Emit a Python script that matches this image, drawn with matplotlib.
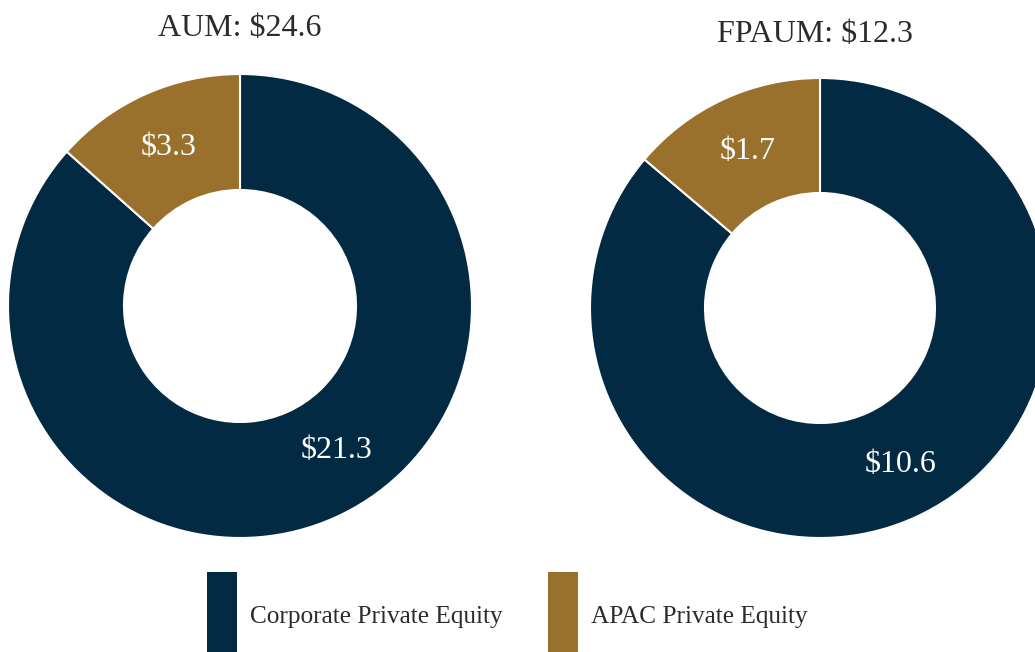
import matplotlib.pyplot as plt
from matplotlib.patches import Patch

segments = ["Corporate Private Equity", "APAC Private Equity"]
aum = [21.3, 3.3]
fpaum = [10.6, 1.7]
titles = ["AUM: $24.6", "FPAUM: $12.3"]
colors = ["#022a42", "#9a702d"]

plt.rcParams['font.family'] = ['Liberation Serif', 'DejaVu Serif']

W, H = 1035, 652
fig = plt.figure(figsize=(W / 100, H / 100), dpi=100)


def donut(rect, values, title, title_xy, big_label_shift=(0, 0)):
    ax = fig.add_axes(rect)
    total = sum(values)
    _, _, autotexts = ax.pie(values, colors=colors, startangle=90, counterclock=False,
           radius=1, pctdistance=0.75,
           autopct=lambda p: f"${p * total / 100:.1f}",
           wedgeprops=dict(width=0.5, edgecolor='white', linewidth=1.5),
           textprops=dict(color='white', fontsize=23))
    # small nudge of the big label, as in the original layout
    x, y = autotexts[0].get_position()
    autotexts[0].set_position((x + big_label_shift[0], y + big_label_shift[1]))
    ax.set_xlim(-1, 1)
    ax.set_ylim(-1, 1)
    ax.set_aspect('equal')
    ax.axis('off')
    fig.text(title_xy[0], title_xy[1], title, ha='center', va='center',
             fontsize=23, color='#2b2b2b')
    return ax


# left donut: center ~ (240, 306) px, radius ~232
donut([8 / W, 114 / H, 464 / W, 464 / H], aum, titles[0],
      (240 / W, 1 - 28 / H), big_label_shift=(0.11, 0.06))
# right donut: center ~ (820, 308) px, radius ~230, clipped at right edge
donut([590 / W, 114 / H, 460 / W, 460 / H], fpaum, titles[1],
      (815 / W, 1 - 35 / H), big_label_shift=(0.035, 0.0))

handles = [Patch(facecolor=c, edgecolor='none') for c in colors]
fig.legend(handles, segments, loc='upper left',
           bbox_to_anchor=(207 / W, 1 - 572 / H), ncol=2, frameon=False,
           fontsize=18.2, handlelength=1.2, handleheight=5.12,
           handletextpad=0.51, columnspacing=1.78, borderpad=0,
           borderaxespad=0, labelcolor='#2b2b2b')

fig.savefig('out.png', dpi=100)
